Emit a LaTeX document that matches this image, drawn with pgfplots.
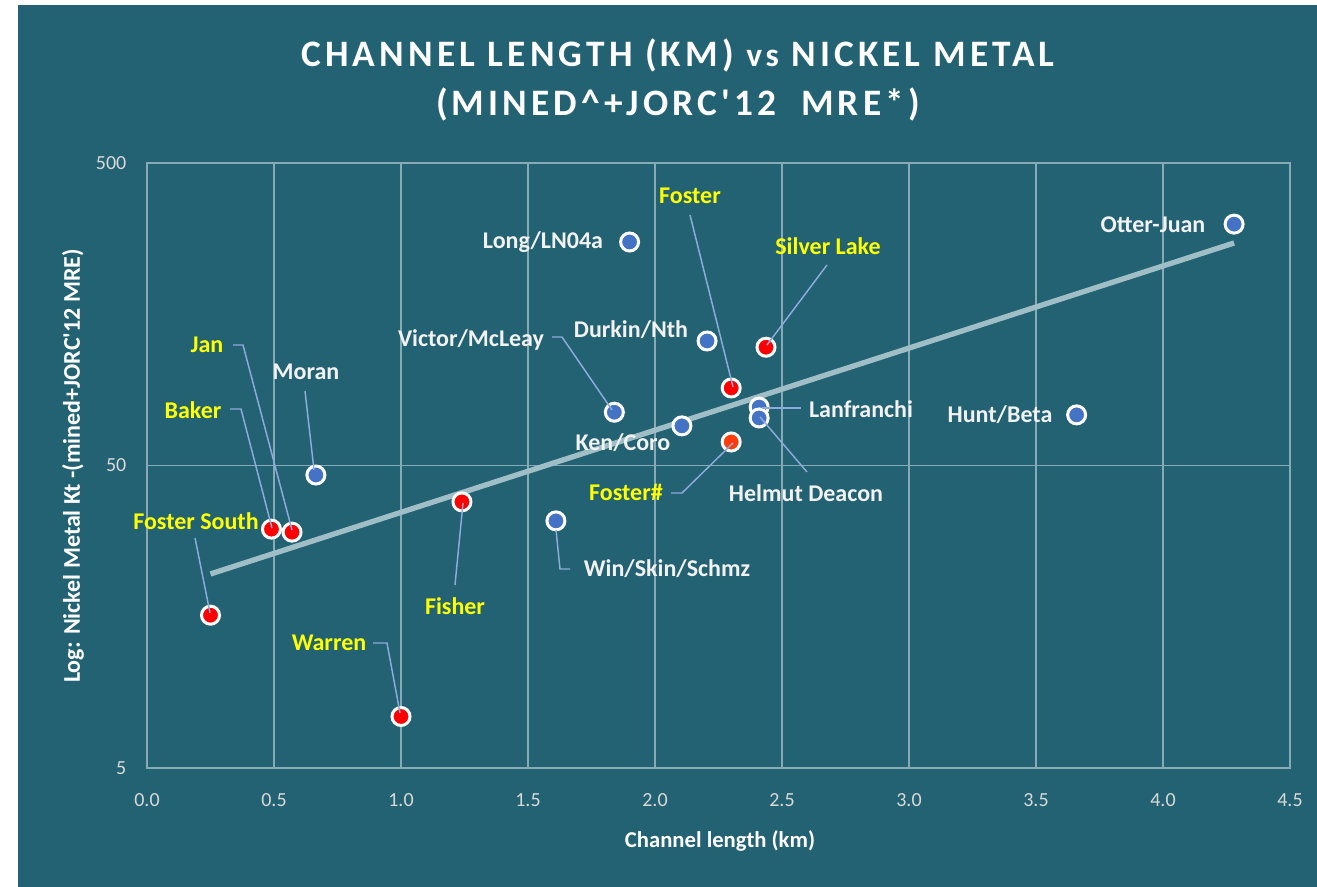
\documentclass[border=0pt]{standalone}
\usepackage{pgfplots}
\pgfplotsset{compat=1.18}
\usepackage{fontspec}
\setmainfont{Carlito}[Ligatures=TeXOff]
\definecolor{bg}{RGB}{35,98,114}
\definecolor{gridc}{RGB}{135,170,180}
\definecolor{mblue}{RGB}{68,114,196}
\definecolor{mred}{RGB}{255,0,0}
\definecolor{mora}{RGB}{255,60,10}
\definecolor{trend}{RGB}{160,190,198}
\definecolor{leader}{RGB}{143,170,220}
\definecolor{ylab}{RGB}{255,255,0}
\definecolor{wlab}{RGB}{242,242,242}
\definecolor{tickc}{RGB}{217,217,217}
\begin{document}
\begin{tikzpicture}
\path[use as bounding box] (0,0) rectangle (987.75pt,665.25pt);
\fill[bg] (13.5pt,0) rectangle (987.75pt,661.5pt);
\begin{axis}[
  at={(110.25pt,89.25pt)}, anchor=south west,
  scale only axis, width=857.25pt, height=453.75pt,
  xmin=0, xmax=4.5, ymode=log, ymin=5, ymax=500,
  xtick={0,0.5,1,1.5,2,2.5,3,3.5,4,4.5},
  xticklabels={0.0,0.5,1.0,1.5,2.0,2.5,3.0,3.5,4.0,4.5},
  ytick={5,50,500}, yticklabels={5,50,500},
  yminorticks=false, xminorticks=false,
  major tick length=0pt, minor tick length=0pt,
  /pgf/number format/assume math mode=true,
  grid=major, major grid style={draw=gridc, line width=0.9pt},
  axis line style={draw=gridc, line width=0.9pt},
  tick label style={font=\fontsize{15}{15}\selectfont, text=tickc},
  xticklabel style={anchor=center, yshift=-24pt},
  yticklabel style={anchor=east, xshift=-12pt},
  clip=false,
]
\addplot[trend, line width=4pt, no markers] coordinates {(0.25,21.9) (4.28,272)};
\addplot[only marks, mark=*, mark size=6.75pt, mark options={fill=mblue, draw=white, line width=2.25pt}] coordinates {
(0.665,46.5) (1.61,32.8) (1.90,274) (1.84,75) (2.106,67.6) (2.205,129) (2.41,78) (2.41,71.8) (3.66,73.5) (4.28,314)};
\addplot[only marks, mark=*, mark size=6.75pt, mark options={fill=mred, draw=white, line width=2.25pt}] coordinates {
(0.25,16.0) (0.49,30.8) (0.571,30.1) (1.0,7.4) (1.24,37.9) (2.30,90.2) (2.437,123)};
\addplot[only marks, mark=*, mark size=6.75pt, mark options={fill=mora, draw=white, line width=2.25pt}] coordinates {
(2.30,59.8)};
\end{axis}
\begin{scope}[shift={(0,665.25pt)}, x=0.75pt, y=-0.75pt,
  lab/.style={font=\bfseries\fontsize{18}{18}\selectfont, inner sep=0pt},
  ld/.style={draw=leader, line width=1.1pt}]
% title
\node[text=white, font=\bfseries\fontsize{28}{28}\selectfont\addfontfeature{LetterSpace=11}] at (678,55) {CHANNEL LENGTH (KM) {\fontsize{25}{25}\selectfont vs} NICKEL METAL};
\node[text=white, font=\bfseries\fontsize{28}{28}\selectfont\addfontfeature{LetterSpace=11}] at (678,104) {(MINED\^{}+JORC'12\ \ MRE*)};
% axis titles
\node[text=white, font=\bfseries\fontsize{17}{17}\selectfont] at (720,841) {Channel length (km)};
\node[text=white, rotate=90, font=\bfseries\fontsize{18}{18}\selectfont] at (73,466) {Log: Nickel Metal Kt -(mined+JORC'12 MRE)};
% leaders
\draw[ld] (195,538) -- (210,613);
\draw[ld] (230,409) -- (241,409) -- (272,528);
\draw[ld] (233,345) -- (243,345) -- (292,530);
\draw[ld] (305,391) -- (314,470);
\draw[ld] (455,585) -- (463,503);
\draw[ld] (373,643) -- (387,643) -- (400,713);
\draw[ld] (556,530) -- (560,569) -- (570,569);
\draw[ld] (552,337) -- (562,337) -- (612,410);
\draw[ld] (690,215) -- (733,387);
\draw[ld] (827,265) -- (767,345);
\draw[ld] (762,408) -- (801,408);
\draw[ld] (671,493) -- (682,493) -- (733,443);
\draw[ld] (760,417) -- (807,472);
% labels
\node[lab, text=ylab] at (196,521) {Foster South};
\node[lab, text=ylab] at (193,410) {Baker};
\node[lab, text=ylab] at (207,345) {Jan};
\node[lab, text=wlab] at (306,372) {Moran};
\node[lab, text=ylab] at (455,606) {Fisher};
\node[lab, text=ylab] at (329,643) {Warren};
\node[lab, text=wlab] at (667,569) {Win/Skin/Schmz};
\node[lab, text=wlab] at (543,242) {Long/LN04a};
\node[lab, text=wlab] at (471,340) {Victor/McLeay};
\node[lab, text=wlab] at (631,330) {Durkin/Nth};
\node[lab, text=ylab] at (690,196) {Foster};
\node[lab, text=ylab] at (828,246) {Silver Lake};
\node[lab, text=wlab] at (861,409) {Lanfranchi};
\node[lab, text=wlab] at (623,443) {Ken/Coro};
\node[lab, text=ylab] at (626,492) {Foster\#};
\node[lab, text=wlab] at (806,493) {Helmut Deacon};
\node[lab, text=wlab] at (1000,415) {Hunt/Beta};
\node[lab, text=wlab] at (1153,225) {Otter-Juan};
\end{scope}
\end{tikzpicture}
\end{document}
